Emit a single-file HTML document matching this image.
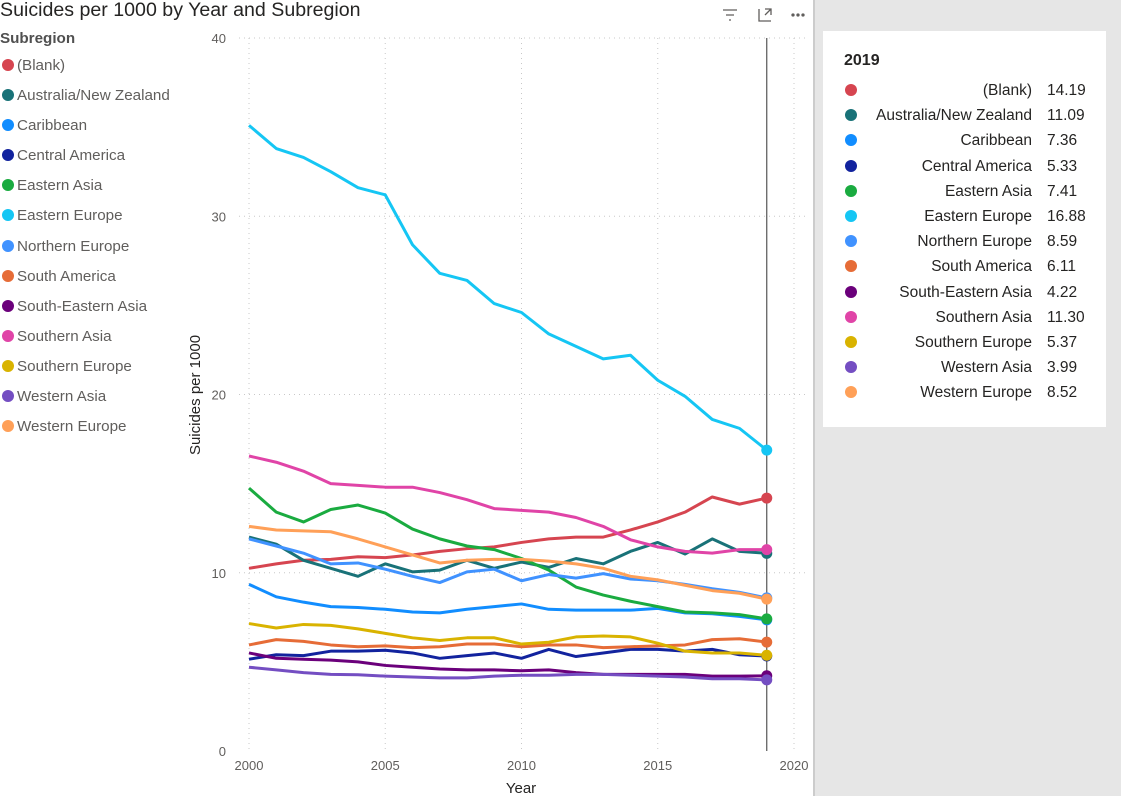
<!DOCTYPE html>
<html><head><meta charset="utf-8"><style>
body{margin:0;width:1121px;height:796px;overflow:hidden;background:#fff;font-family:"Segoe UI","Liberation Sans","DejaVu Sans",sans-serif;position:relative}
.title{position:absolute;left:0;top:-1px;font-size:19.6px;color:#252423}
.lg{position:absolute;left:0;top:30px;font-size:15.2px;color:#605e5c}
.lg .h{font-weight:bold;color:#505050;margin-bottom:10px}
.lg .e{height:30.1px;display:flex;align-items:flex-start}
.dot{width:12px;height:12px;border-radius:50%;display:inline-block;margin:2px 3px 0 2px}
.panel{position:absolute;left:815px;top:0;width:306px;height:796px;background:#e6e6e6}
.tip{position:absolute;left:823px;top:31px;width:283px;height:396px;background:#fff}
.tip .yr{position:absolute;left:21px;top:21px;font-weight:bold;font-size:16px;color:#252423}
.tip .r{position:absolute;left:0;width:283px;height:25px;font-size:15.5px;color:#252423}
.tip .r .d{position:absolute;left:22px;top:2px;width:12px;height:12px;border-radius:50%}
.tip .r .n{position:absolute;right:74px;top:0;text-align:right}
.tip .r .v{position:absolute;left:224px;top:0}
</style></head><body>
<div class="title">Suicides per 1000 by Year and Subregion</div>
<div class="lg" id="legend"><div class="h">Subregion</div></div>
<div class="panel"></div>
<div class="tip" id="tip"><div class="yr">2019</div></div>
<svg id="chart" width="815" height="796" style="position:absolute;left:0;top:0">
<g fill="none" stroke="#605e5c" stroke-width="1.3">
<path d="M723 10h14M726 15h8M729 20h2"/>
<path d="M759 9v12h12M765 9h6v6M771 9l-6 6"/>
<circle cx="793" cy="15" r="1" fill="#605e5c"/><circle cx="798" cy="15" r="1" fill="#605e5c"/><circle cx="803" cy="15" r="1" fill="#605e5c"/>
</g>
<line x1="814" y1="0" x2="814" y2="796" stroke="#999" stroke-width="1"/>
</svg>
<script>
const years=[2000,2001,2002,2003,2004,2005,2006,2007,2008,2009,2010,2011,2012,2013,2014,2015,2016,2017,2018,2019];
const names=["(Blank)","Australia/New Zealand","Caribbean","Central America","Eastern Asia","Eastern Europe","Northern Europe","South America","South-Eastern Asia","Southern Asia","Southern Europe","Western Asia","Western Europe"];
const colors=["#D64550","#197278","#118DFF","#12239E","#1AAB40","#15C6F4","#4092FF","#E66C37","#6B007B","#E044A7","#D9B300","#744EC2","#FFA058"];
const sBlank=[10.25,10.5,10.7,10.75,10.9,10.85,11.0,11.2,11.35,11.45,11.7,11.9,12.0,12.0,12.4,12.85,13.4,14.25,13.85,14.19];
const sAus=[12.0,11.6,10.7,10.25,9.8,10.5,10.05,10.15,10.7,10.25,10.6,10.3,10.8,10.5,11.2,11.7,11.05,11.9,11.2,11.09];
const sCarib=[9.35,8.65,8.35,8.1,8.05,7.95,7.8,7.75,7.95,8.1,8.25,7.95,7.9,7.9,7.9,8.0,7.75,7.7,7.55,7.36];
const sCentAm=[5.15,5.4,5.35,5.6,5.6,5.65,5.5,5.2,5.35,5.5,5.2,5.7,5.3,5.5,5.7,5.7,5.6,5.7,5.4,5.33];
const sEAsia=[14.75,13.4,12.85,13.55,13.8,13.35,12.45,11.9,11.5,11.3,10.8,10.15,9.2,8.75,8.4,8.1,7.8,7.75,7.65,7.41];
const sEEur=[35.1,33.8,33.3,32.5,31.6,31.2,28.4,26.8,26.4,25.1,24.6,23.4,22.7,22.0,22.2,20.8,19.9,18.6,18.1,16.88];
const sNEur=[11.9,11.5,11.1,10.5,10.55,10.2,9.8,9.45,10.05,10.2,9.55,9.9,9.7,9.95,9.65,9.55,9.35,9.1,8.9,8.59];
const sSAm=[5.95,6.25,6.15,5.95,5.85,5.9,5.8,5.85,6.0,6.0,5.85,5.95,5.95,5.8,5.85,5.9,5.95,6.25,6.3,6.11];
const sSEAsia=[5.5,5.2,5.15,5.1,5.0,4.8,4.7,4.6,4.55,4.55,4.5,4.55,4.4,4.3,4.3,4.3,4.3,4.2,4.2,4.22];
const sSAsia=[16.55,16.2,15.7,15.0,14.9,14.8,14.8,14.5,14.1,13.6,13.5,13.4,13.1,12.6,11.85,11.45,11.2,11.1,11.3,11.30];
const sSEur=[7.15,6.9,7.1,7.05,6.85,6.6,6.35,6.2,6.35,6.35,6.0,6.1,6.4,6.45,6.4,6.05,5.6,5.5,5.5,5.37];
const sWAsia=[4.7,4.55,4.4,4.3,4.28,4.2,4.15,4.1,4.1,4.2,4.25,4.25,4.3,4.3,4.25,4.2,4.15,4.05,4.05,3.99];
const sWEur=[12.6,12.4,12.35,12.3,11.9,11.45,11.0,10.55,10.7,10.75,10.75,10.65,10.5,10.25,9.8,9.6,9.3,9.0,8.85,8.52];
const series=[sBlank,sAus,sCarib,sCentAm,sEAsia,sEEur,sNEur,sSAm,sSEAsia,sSAsia,sSEur,sWAsia,sWEur];
const xTicks=[2000,2005,2010,2015,2020];
const yTicks=[0,10,20,30,40];
const tipYear=2019;
const NS="http://www.w3.org/2000/svg";
const X0=249,X1=794,Y0=751,Y1=38;
const xs=v=>X0+(v-2000)/20*(X1-X0);
const ys=v=>Y0-v/40*(Y0-Y1);
const svg=document.getElementById('chart');
function mk(t,a,p){const e=document.createElementNS(NS,t);for(const k in a)e.setAttribute(k,a[k]);(p||svg).appendChild(e);return e;}
const grid=mk('g',{});


yTicks.forEach(t=>{
 if(t>0){mk('line',{x1:X0-10,x2:X1+12,y1:ys(t),y2:ys(t),stroke:'#c8c8c8','stroke-dasharray':'1 4'},grid);}
 const tx=mk('text',{x:226,y:ys(t)+5,'text-anchor':'end','font-size':13,fill:'#605e5c'});
 tx.textContent=t;
 
 
});
xTicks.forEach(t=>{
 mk('line',{x1:xs(t),x2:xs(t),y1:Y1,y2:Y0,stroke:'#c8c8c8','stroke-dasharray':'1 4'},grid);
 const tx=mk('text',{x:xs(t),y:770,'text-anchor':'middle','font-size':13,fill:'#605e5c'});
 tx.textContent=t;
 
 
});
const xt=mk('text',{x:521,y:793,'text-anchor':'middle','font-size':15,fill:'#252423'});xt.textContent='Year';


const yt=mk('text',{x:200,y:395,'text-anchor':'middle','font-size':15,fill:'#252423',transform:'rotate(-90 200 395)'});yt.textContent='Suicides per 1000';


const vl=mk('line',{x1:xs(tipYear),x2:xs(tipYear),y1:Y1,y2:Y0,stroke:'#555','stroke-width':1.2});


const idx=years.indexOf(tipYear);
series.forEach((s,i)=>{
 const p=mk('polyline',{points:s.map((v,j)=>xs(years[j])+','+ys(v)).join(' '),fill:'none',stroke:colors[i],'stroke-width':3,'stroke-linejoin':'round'});
 
 
});
series.forEach((s,i)=>{
 const c=mk('circle',{cx:xs(tipYear),cy:ys(s[idx]),r:5.5,fill:colors[i]});
 
 
});
const lg=document.getElementById('legend'),tip=document.getElementById('tip');
names.forEach((n,i)=>{
 const e=document.createElement('div');e.className='e';
 e.innerHTML='<span class="dot" style="background:'+colors[i]+'"></span><span>'+n+'</span>';
 
 
 lg.appendChild(e);
 const r=document.createElement('div');r.className='r';r.style.top=(51+i*25.2)+'px';
 r.innerHTML='<span class="d" style="background:'+colors[i]+'"></span><span class="n">'+n+'</span><span class="v">'+series[i][idx].toFixed(2)+'</span>';
 
 
 tip.appendChild(r);
});
</script>
</body></html>
